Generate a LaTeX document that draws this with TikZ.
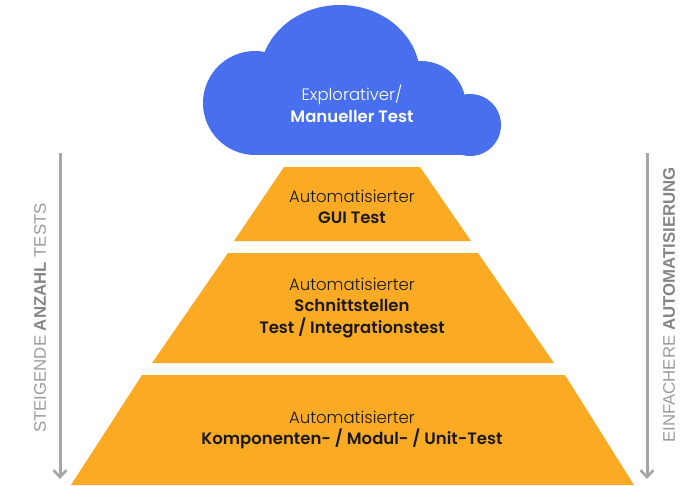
\documentclass[tikz,border=0pt]{standalone}
\usepackage{fontspec}
\IfFontExistsTF{Poppins SemiBold}{\setmainfont{Poppins}[BoldFont={Poppins SemiBold}]}{\setmainfont{Poppins}}
\IfFontExistsTF{Poppins Light}{\newfontfamily\lightfont{Poppins Light}}{\newfontfamily\lightfont{Poppins}}
\newfontfamily\sidefont{Liberation Sans}
\usetikzlibrary{arrows.meta}
\definecolor{cloudblue}{HTML}{4870EE}
\definecolor{pyrorange}{HTML}{FBAA23}
\definecolor{sidegray}{HTML}{A6A6A6}
\definecolor{sidetext}{HTML}{9C9C9C}
\definecolor{sidebold}{HTML}{858585}
\begin{document}
\begin{tikzpicture}[x=1pt,y=-1pt,
  level/.style={fill=pyrorange},
  label/.style={align=center,text=black!90,font=\fontsize{16.5}{21.5}\selectfont},
  side/.style={rotate=90,text=sidetext,font=\sidefont\fontsize{16.8}{18}\selectfont},
  sidearrow/.style={draw=sidegray,line width=3pt,-{Straight Barb[length=7pt,width=13pt,line width=2.6pt]}}]
\useasboundingbox (0,0) rectangle (699,485);
\fill [cloudblue] (255,103) circle (52);
\fill [cloudblue] (340,76) ellipse (80 and 71);
\fill [cloudblue] (421,106) circle (45);
\fill [cloudblue] (470,125) circle (31);
\fill [cloudblue] (255,95) rectangle (470,155);
\node[label,text=white] (cloud) at (352,104) {{\lightfont Explorativer/}\\\textbf{Manueller Test}};
\fill [level] (284,167)--(420,167)--(471,241)--(234,241)--cycle;
\fill [level] (228,253)--(478,253)--(554,363)--(152,363)--cycle;
\fill [level] (142,375)--(565,375)--(634,485)--(71,485)--cycle;
\node[label] (gui) at (352,207) {{\lightfont Automatisierter}\\\textbf{GUI Test}};
\node[label] (schnitt) at (352,308) {{\lightfont Automatisierter}\\\textbf{Schnittstellen}\\\textbf{Test / Integrationstest}};
\node[label] (unit) at (352,430) {{\lightfont Automatisierter}\\\textbf{Komponenten- / Modul- / Unit-Test}};
\coordinate (L1) at (60,153);
\coordinate (L2) at (60,479);
\coordinate (R1) at (647,153);
\coordinate (R2) at (647,479);
\draw [sidearrow] (L1)--(L2);
\draw [sidearrow] (R1)--(R2);
\node[side] (anzahl) at (40,318) {STEIGENDE \textcolor{sidebold}{\bfseries ANZAHL} TESTS};
\node[side] (einfach) at (669,305) {EINFACHERE \textcolor{sidebold}{\bfseries AUTOMATISIERUNG}};
\end{tikzpicture}
\end{document}
